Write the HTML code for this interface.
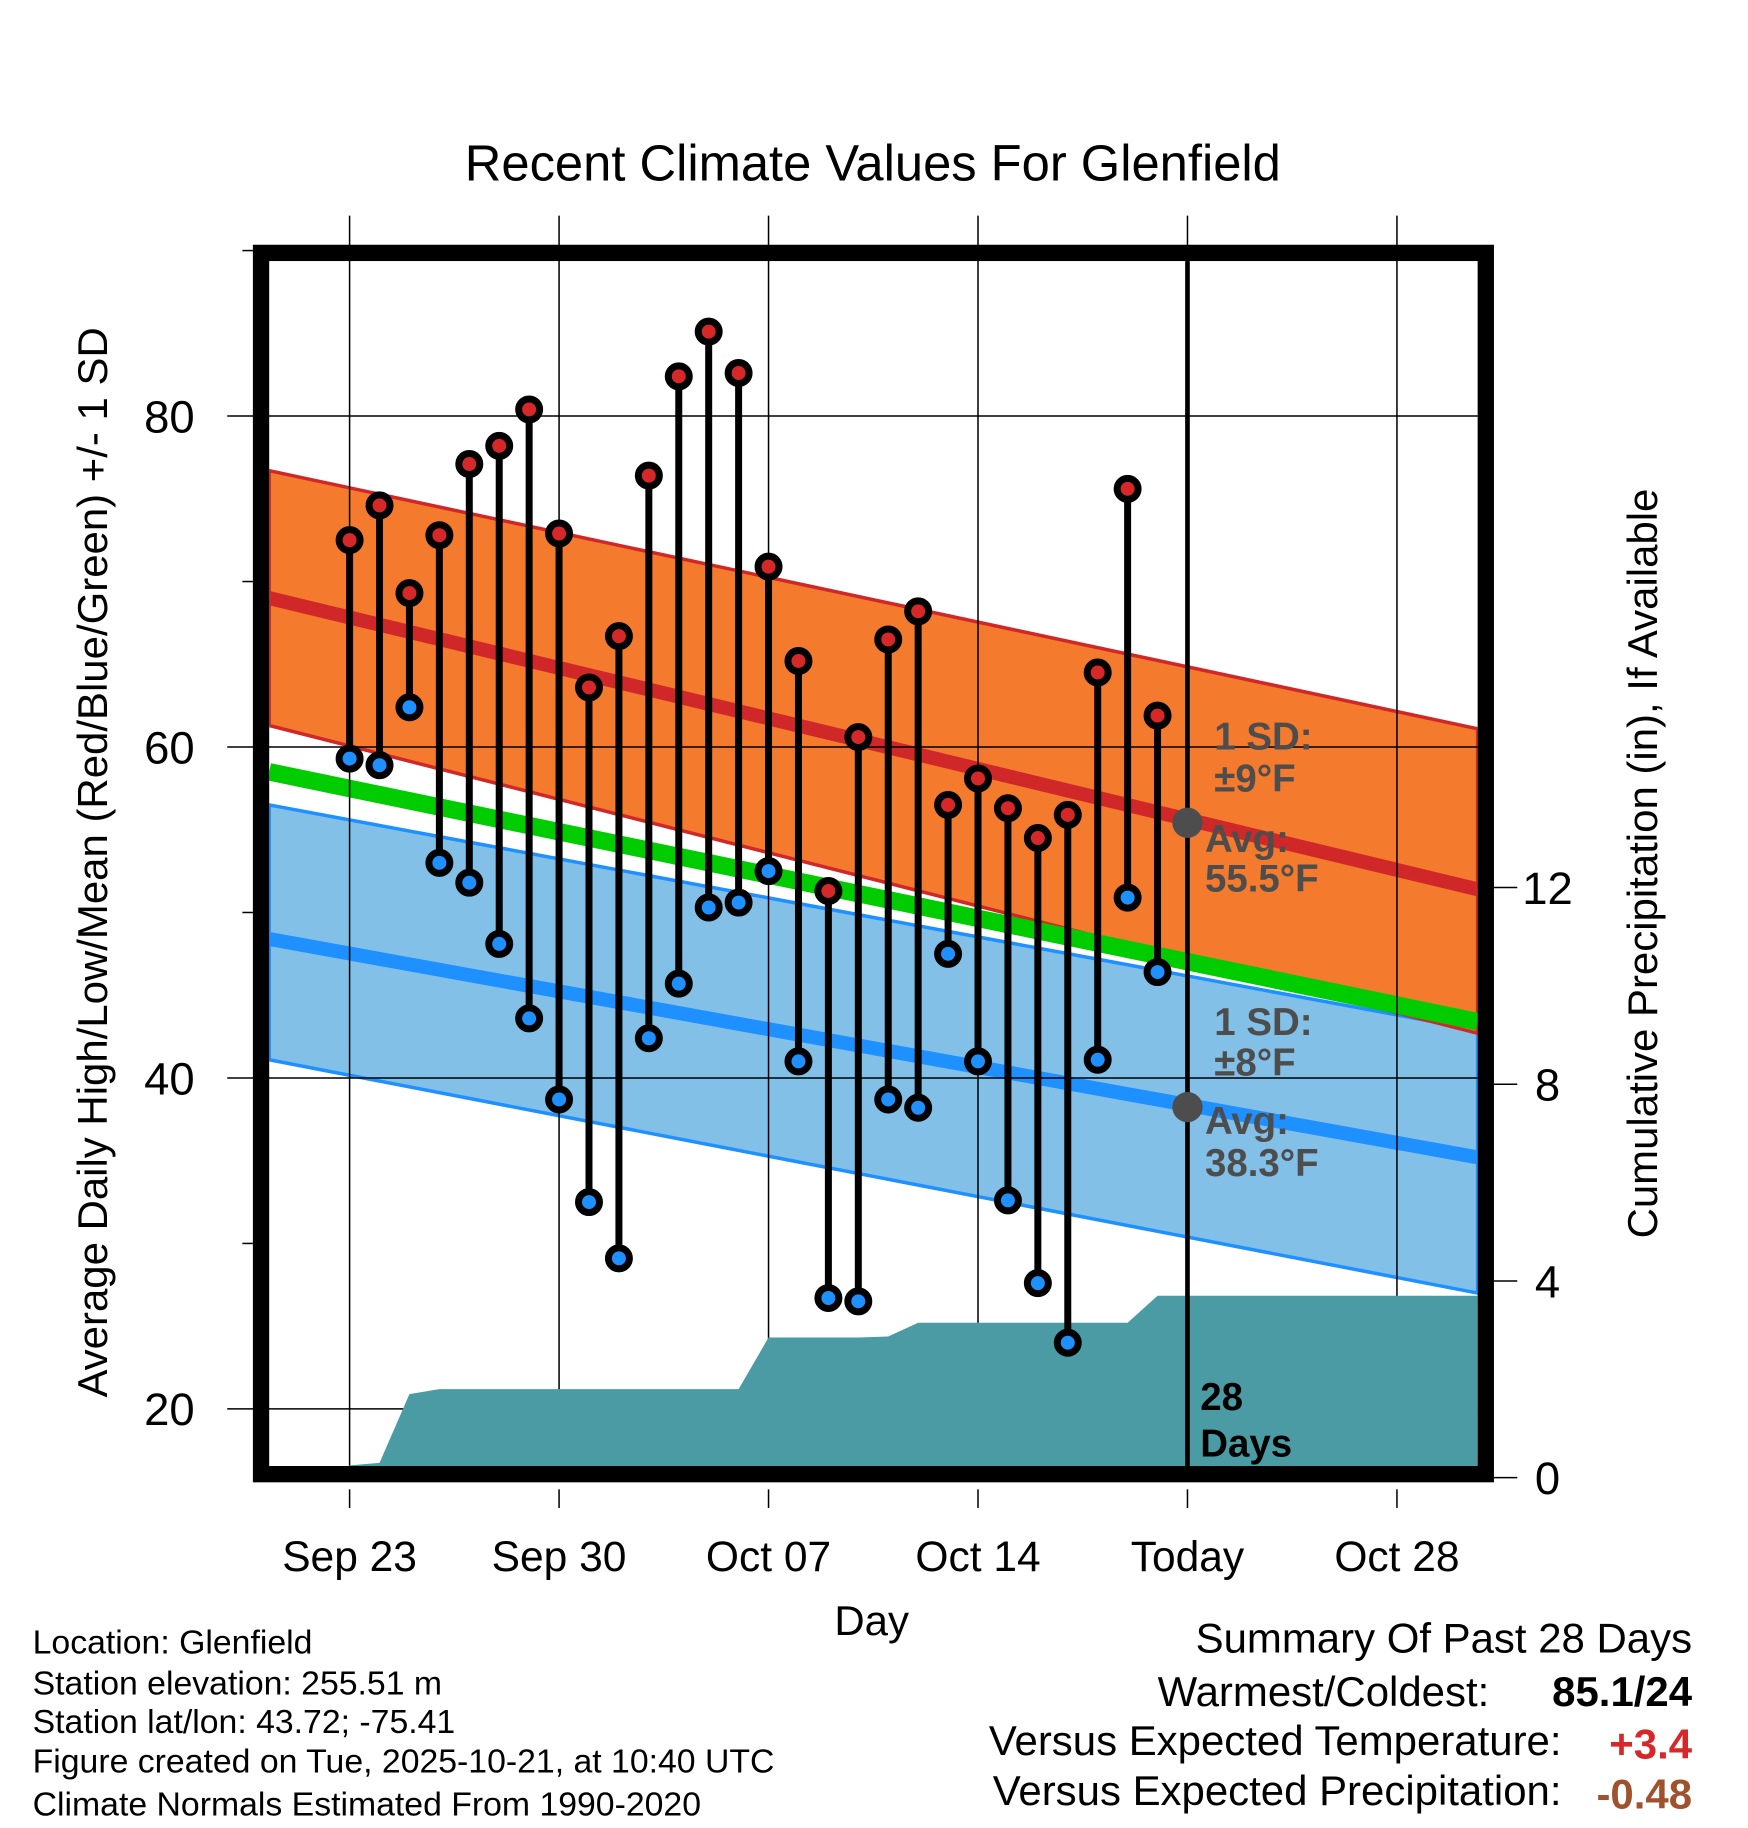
<!DOCTYPE html>
<html><head><meta charset="utf-8"><style>
html,body{margin:0;padding:0;background:#fff;}
svg{display:block;font-family:"Liberation Sans",sans-serif;}
</style></head><body>
<svg id="chart" width="1748" height="1828" viewBox="0 0 1500 1568.6" xmlns="http://www.w3.org/2000/svg">
<defs><clipPath id="plotclip"><rect x="231" y="224" width="1037" height="1036"/></clipPath></defs>
<text x="749" y="155" font-size="43.5" text-anchor="middle">Recent Climate Values For Glenfield</text>
<g id="bands" clip-path="url(#plotclip)"></g>
<g id="grid"></g>
<g id="precip" clip-path="url(#plotclip)"></g>
<g id="marks"></g>
<line x1="1019" y1="224" x2="1019" y2="1260" stroke="#000" stroke-width="4"/>
<circle cx="1019" cy="706" r="13" fill="#4d4d4d"/>
<circle cx="1019" cy="950" r="13" fill="#4d4d4d"/>
<g font-weight="bold" font-size="33" fill="#4d4d4d">
<text x="1042" y="643">1 SD:</text>
<text x="1042" y="679">±9°F</text>
<text x="1034" y="731">Avg:</text>
<text x="1034" y="765">55.5°F</text>
<text x="1042" y="888">1 SD:</text>
<text x="1042" y="923">±8°F</text>
<text x="1034" y="973">Avg:</text>
<text x="1034" y="1009">38.3°F</text>
</g>
<text x="1030" y="1210" font-size="33" font-weight="bold">28</text>
<text x="1030" y="1250" font-size="33" font-weight="bold">Days</text>
<rect x="224" y="217" width="1051" height="1048" fill="none" stroke="#000" stroke-width="14"/>
<g id="axes"></g>
<text transform="translate(92,740) rotate(-90)" font-size="36" text-anchor="middle">Average Daily High/Low/Mean (Red/Blue/Green) +/- 1 SD</text>
<text transform="translate(1422,741) rotate(-90)" font-size="36" text-anchor="middle">Cumulative Precipitation (in), If Available</text>
<text x="748" y="1403" font-size="36" text-anchor="middle">Day</text>
<g font-size="29">
<text x="28" y="1419">Location: Glenfield</text>
<text x="28" y="1454">Station elevation: 255.51 m</text>
<text x="28" y="1487">Station lat/lon: 43.72; -75.41</text>
<text x="28" y="1521">Figure created on Tue, 2025-10-21, at 10:40 UTC</text>
<text x="28" y="1558">Climate Normals Estimated From 1990-2020</text>
</g>
<g font-size="36">
<text x="1452" y="1418" text-anchor="end">Summary Of Past 28 Days</text>
<text x="1278" y="1464" text-anchor="end">Warmest/Coldest:</text>
<text x="1452" y="1464" text-anchor="end" font-weight="bold">85.1/24</text>
<text x="1340" y="1506" text-anchor="end">Versus Expected Temperature:</text>
<text x="1452" y="1509" text-anchor="end" font-weight="bold" fill="#d62828">+3.4</text>
<text x="1340" y="1549" text-anchor="end">Versus Expected Precipitation:</text>
<text x="1452" y="1552" text-anchor="end" font-weight="bold" fill="#a0522d">-0.48</text>
</g>
</svg>
<script>
// ---- data ----
const dayLabels = ["Sep 23","Sep 24","Sep 25","Sep 26","Sep 27","Sep 28","Sep 29","Sep 30","Oct 01","Oct 02","Oct 03","Oct 04","Oct 05","Oct 06","Oct 07","Oct 08","Oct 09","Oct 10","Oct 11","Oct 12","Oct 13","Oct 14","Oct 15","Oct 16","Oct 17","Oct 18","Oct 19","Oct 20"];
const highs = [72.5,74.6,69.3,72.8,77.1,78.2,80.4,72.9,63.6,66.7,76.4,82.4,85.1,82.6,70.9,65.2,51.3,60.6,66.5,68.2,56.5,58.1,56.3,54.5,55.9,64.5,75.6,61.9];
const lows = [59.3,58.9,62.4,53.0,51.8,48.1,43.6,38.7,32.5,29.1,42.4,45.7,50.3,50.6,52.5,41.0,26.7,26.5,38.7,38.2,47.5,41.0,32.6,27.6,24.0,41.1,50.9,46.4];
const precipCum = [0.25,0.3,1.7,1.8,1.8,1.8,1.8,1.8,1.8,1.8,1.8,1.8,1.8,1.8,2.85,2.85,2.85,2.85,2.87,3.15,3.15,3.15,3.15,3.15,3.15,3.15,3.15,3.7];
const xTickDays = [0,7,14,21,28,35];
const xTickLabels = ["Sep 23","Sep 30","Oct 07","Oct 14","Today","Oct 28"];
const yTicks = [20,40,60,80];
const yMinorTicks = [30,50,70,90];
const y2Ticks = [0,4,8,12];
// normals at left and right plot edges
const normHighMean = [69.0,51.4];
const normHighUpper = [76.7,61.1];
const normHighLower = [61.3,42.7];
const normMean = [58.5,43.4];
const normLowMean = [48.4,35.2];
const normLowUpper = [56.5,42.9];
const normLowLower = [41.1,27.0];

// ---- scales ----
const X0 = 231, X1 = 1268, Y0 = 224, Y1 = 1260;
const xs = d => 300 + d * (1019 - 300) / 28;
const ys = v => 357 + (80 - v) * 14.2;
const yp = p => 1268 - p * 42.2;
const NS = "http://www.w3.org/2000/svg";
function mk(tag, parent, attrs){ const e = document.createElementNS(NS, tag); for (const k in attrs) e.setAttribute(k, attrs[k]); parent.appendChild(e); return e; }

const bands = document.getElementById('bands');
function bandPoly(top, bot){
  return `${X0},${ys(top[0])} ${X1},${ys(top[1])} ${X1},${ys(bot[1])} ${X0},${ys(bot[0])}`;
}
let e;
e = mk('polygon', bands, {points: bandPoly(normLowUpper, normLowLower), fill:'#82c0e8', stroke:'#1e90ff', 'stroke-width':3});


e = mk('polygon', bands, {points: bandPoly(normHighUpper, normHighLower), fill:'#f47a2e', stroke:'#d02828', 'stroke-width':3});


e = mk('line', bands, {x1:X0, y1:ys(normMean[0]), x2:X1, y2:ys(normMean[1]), stroke:'#00cc00', 'stroke-width':15});


e = mk('line', bands, {x1:X0, y1:ys(normHighMean[0]), x2:X1, y2:ys(normHighMean[1]), stroke:'#d02828', 'stroke-width':12});


e = mk('line', bands, {x1:X0, y1:ys(normLowMean[0]), x2:X1, y2:ys(normLowMean[1]), stroke:'#1e90ff', 'stroke-width':12});



const grid = document.getElementById('grid');
xTickDays.forEach((d,i) => {
  e = mk('line', grid, {x1:xs(d), y1:185, x2:xs(d), y2:Y1, stroke:'#000', 'stroke-width':1.3});
  
  
});
yTicks.forEach(v => {
  e = mk('line', grid, {x1:195, y1:ys(v), x2:X1, y2:ys(v), stroke:'#000', 'stroke-width':1.3});
  
  
});

const pr = document.getElementById('precip');
let pts = `${xs(0)},${Y1+10} `;
precipCum.forEach((p,i) => { pts += `${xs(i)},${yp(p)} `; });
pts += `${X1},${yp(precipCum[precipCum.length-1])} ${X1},${Y1+10}`;
e = mk('polygon', pr, {points: pts, fill:'#4a9ba4'});



const marks = document.getElementById('marks');
highs.forEach((h,i) => {
  const x = xs(i);
  e = mk('line', marks, {x1:x, y1:ys(h), x2:x, y2:ys(lows[i]), stroke:'#000', 'stroke-width':6});
  
  
});
highs.forEach((h,i) => {
  const x = xs(i);
  e = mk('circle', marks, {cx:x, cy:ys(h), r:9, fill:'#d62828', stroke:'#000', 'stroke-width':6});
  
  
  e = mk('circle', marks, {cx:x, cy:ys(lows[i]), r:9, fill:'#1e90ff', stroke:'#000', 'stroke-width':6});
  
  
});

const axes = document.getElementById('axes');
xTickDays.forEach((d,i) => {
  e = mk('line', axes, {x1:xs(d), y1:1278, x2:xs(d), y2:1294, stroke:'#000', 'stroke-width':1.3});
  
  
  e = mk('text', axes, {x:xs(d), y:1348, 'font-size':36.5, 'text-anchor':'middle'});
  e.textContent = xTickLabels[i];
  
  
});
yTicks.forEach(v => {
  e = mk('text', axes, {x:167, y:ys(v)+14, 'font-size':39, 'text-anchor':'end'});
  e.textContent = v;
  
  
});
yMinorTicks.forEach(v => {
  e = mk('line', axes, {x1:208, y1:ys(v), x2:217, y2:ys(v), stroke:'#000', 'stroke-width':1.3});
  
  
});
y2Ticks.forEach(p => {
  e = mk('line', axes, {x1:1282, y1:yp(p), x2:1302, y2:yp(p), stroke:'#000', 'stroke-width':1.3});
  
  
  e = mk('text', axes, {x:1328, y:yp(p)+14, 'font-size':39, 'text-anchor':'middle'});
  e.textContent = p;
  
  
});
</script>
</body></html>
